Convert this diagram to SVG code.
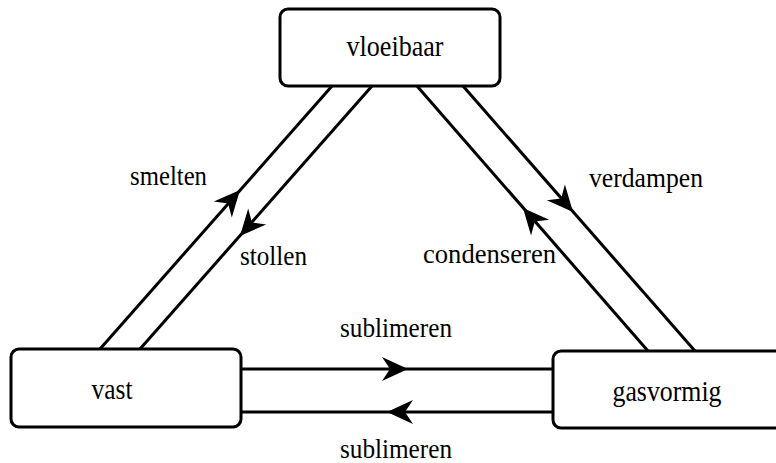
<svg xmlns="http://www.w3.org/2000/svg" xmlns:xlink="http://www.w3.org/1999/xlink" width="776" height="463" viewBox="0 0 776 463">
  <style>
    .box { fill: #ffffff; stroke: #000000; stroke-width: 3; }
    .line { stroke: #000000; stroke-width: 3; fill: none; }
    .head { fill: #000000; stroke: none; }
    text { font-family: "Liberation Serif", "DejaVu Serif", "Times New Roman", Times, serif; fill: #000000; }
    .state { font-size: 29px; text-anchor: middle; }
    .proc { font-size: 28px; }
  </style>
  <defs>
    <!-- barbed arrowhead, tip at origin, pointing along +x -->
    <path id="ah" d="M0,0 L-26,-12 L-18,0 L-26,12 Z"/>
  </defs>
  <rect width="776" height="463" fill="#ffffff"/>

  <g id="connectors">
    <!-- vast <-> vloeibaar -->
    <line class="line" x1="100" y1="349" x2="332" y2="86"/>
    <line class="line" x1="140" y1="349" x2="372" y2="86"/>
    <!-- vloeibaar <-> gasvormig -->
    <line class="line" x1="417" y1="86" x2="648" y2="351"/>
    <line class="line" x1="463" y1="86" x2="695" y2="351"/>
    <!-- vast <-> gasvormig -->
    <line class="line" x1="241" y1="369" x2="553" y2="369"/>
    <line class="line" x1="241" y1="412" x2="553" y2="412"/>

    <use class="head" xlink:href="#ah" transform="translate(240,190) rotate(-48.6)"/>
    <use class="head" xlink:href="#ah" transform="translate(240,236) rotate(131.4)"/>
    <use class="head" xlink:href="#ah" transform="translate(523,208) rotate(-131.1)"/>
    <use class="head" xlink:href="#ah" transform="translate(573,212) rotate(48.8)"/>
    <use class="head" xlink:href="#ah" transform="translate(408,369)"/>
    <use class="head" xlink:href="#ah" transform="translate(387,412) rotate(180)"/>

    <text class="proc" x="130" y="185" textLength="77" lengthAdjust="spacingAndGlyphs">smelten</text>
    <text class="proc" x="240" y="265" textLength="67" lengthAdjust="spacingAndGlyphs">stollen</text>
    <text class="proc" x="589" y="187" textLength="114" lengthAdjust="spacingAndGlyphs">verdampen</text>
    <text class="proc" x="423" y="263" textLength="133" lengthAdjust="spacingAndGlyphs">condenseren</text>
    <text class="proc" x="340" y="337" textLength="112" lengthAdjust="spacingAndGlyphs">sublimeren</text>
    <text class="proc" x="340" y="458" textLength="112" lengthAdjust="spacingAndGlyphs">sublimeren</text>
  </g>

  <g id="vloeibaar">
    <rect class="box" x="280" y="9" width="220" height="77" rx="8"/>
    <text class="state" x="395" y="56" textLength="97" lengthAdjust="spacingAndGlyphs">vloeibaar</text>
  </g>
  <g id="vast">
    <rect class="box" x="11" y="349" width="230" height="78" rx="8"/>
    <text class="state" x="112" y="399" textLength="41" lengthAdjust="spacingAndGlyphs">vast</text>
  </g>
  <g id="gasvormig">
    <rect class="box" x="553" y="351" width="235" height="77" rx="8"/>
    <text class="state" x="667" y="401" textLength="109" lengthAdjust="spacingAndGlyphs">gasvormig</text>
  </g>
</svg>
